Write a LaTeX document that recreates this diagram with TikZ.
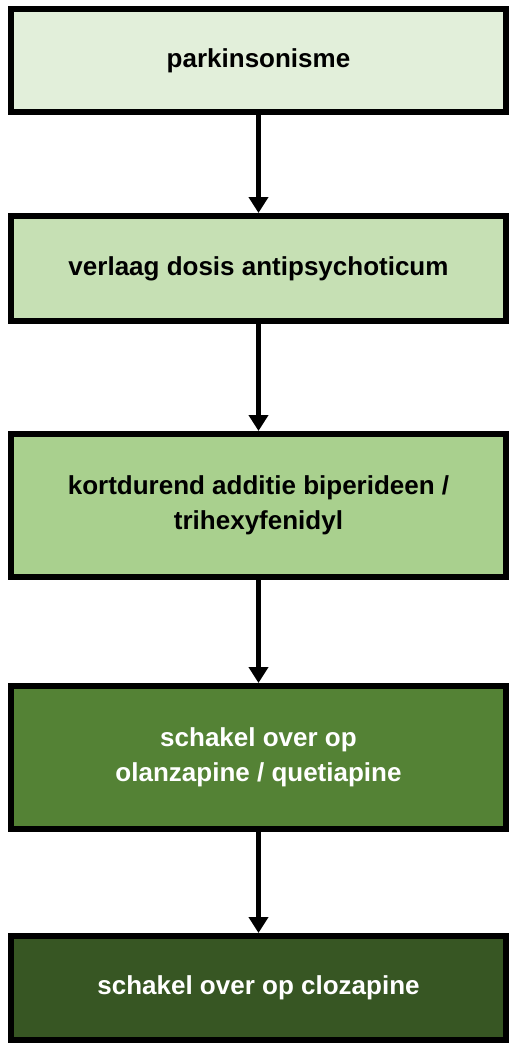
\documentclass[tikz,border=0pt]{standalone}
\usepackage{fontspec}
\setmainfont{Liberation Sans}
\usetikzlibrary{arrows.meta}

\definecolor{greenA}{HTML}{E2EFDA}
\definecolor{greenB}{HTML}{C6E0B4}
\definecolor{greenC}{HTML}{A9D08E}
\definecolor{greenD}{HTML}{548235}
\definecolor{greenE}{HTML}{375623}

\tikzset{
  stepbox/.style={draw=black, line width=6pt, rectangle, minimum width=495pt,
    align=center, inner sep=0pt,
    font=\fontsize{26}{35}\selectfont\bfseries},
  flow/.style={line width=5pt, -{Triangle[length=16pt,width=19pt]}}
}

\begin{document}
\begin{tikzpicture}[x=1pt,y=1pt]

\useasboundingbox (0,0) rectangle (510,-1045);

\node[stepbox, fill=greenA, minimum height=103pt] (b1) at (258.5,-60.5) {parkinsonisme};
\node[stepbox, fill=greenB, minimum height=105pt] (b2) at (258.5,-268.5) {verlaag dosis antipsychoticum};
\node[stepbox, fill=greenC, minimum height=143pt] (b3) at (258.5,-505.5) {kortdurend additie biperideen /\\trihexyfenidyl};
\node[stepbox, fill=greenD, minimum height=143pt, text=white] (b4) at (258.5,-757.5) {schakel over op\\olanzapine / quetiapine};
\node[stepbox, fill=greenE, minimum height=104pt, text=white] (b5) at (258.5,-988) {schakel over op clozapine};

\foreach \i/\j in {1/2,2/3,3/4,4/5}
{
\draw[flow] (b\i.south) -- (b\j.north);
}

\end{tikzpicture}
\end{document}
